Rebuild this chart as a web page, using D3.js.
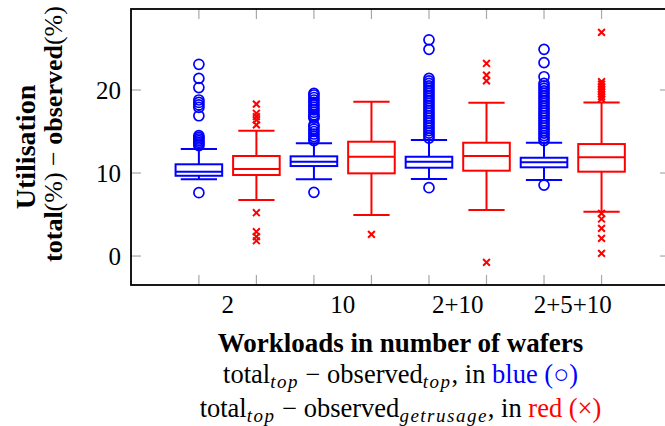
<!DOCTYPE html>
<html>
<head>
<meta charset="utf-8">
<script src="https://cdn.jsdelivr.net/npm/d3@7"></script>
</head>
<body style="margin:0; background:#fff">
<svg id="chart" width="665" height="426"></svg>
<script>
// workload groups, each has a blue (top) and a red (getrusage) box
const groups = ['2', '10', '2+10', '2+5+10'];

// [lower whisker, q1, median, q3, upper whisker]
const blueBoxes = [
  [9.24, 9.67, 10.16, 11.05, 12.89],
  [9.24, 10.84, 11.36, 12.01, 13.58],
  [9.28, 10.64, 11.36, 11.96, 13.98],
  [9.16, 10.69, 11.29, 11.84, 13.65]
];
const redBoxes = [
  [6.75, 9.76, 10.48, 12.05, 15.1],
  [4.94, 9.96, 11.96, 13.77, 18.6],
  [5.54, 10.28, 12.05, 13.65, 18.47],
  [5.34, 10.16, 11.9, 13.49, 18.5]
];

const blueOutliers = [
  [23.1, 21.4, 20.3, 18.8, 18.5, 18.2, 17.9, 16.9, 14.5, 14.3, 14.1, 13.9, 13.7, 13.5, 13.3, 7.63],
  [19.6, 19.4, 19.1, 18.8, 18.5, 18.2, 17.9, 17.6, 17.3, 17.0, 16.8, 16.6, 15.8, 15.6, 15.3, 15.0, 14.7, 14.4, 14.1, 13.9, 7.67],
  [26.05, 24.9, 21.4, 21.1, 20.8, 20.5, 20.2, 19.9, 19.6, 19.3, 19.0, 18.7, 18.4, 18.1, 17.8, 17.5, 17.2, 16.9, 16.6, 16.3, 16.0,
   15.7, 15.4, 15.1, 14.8, 14.5, 14.2, 8.23],
  [24.9, 23.3, 21.6, 20.8, 20.5, 20.2, 19.9, 19.6, 19.3, 19.0, 18.7, 18.4, 18.1, 17.8, 17.5, 17.2, 16.9, 16.6, 16.3, 16.0,
   15.7, 15.4, 15.1, 14.8, 14.5, 14.2, 13.9, 8.55]
];
const redOutliers = [
  [18.3, 17.2, 16.8, 16.4, 15.8, 5.22, 2.93, 2.33, 1.84],
  [2.61],
  [23.2, 21.8, 21.1, -0.76],
  [26.95, 21.0, 20.7, 20.4, 20.1, 19.8, 19.5, 19.2, 18.9, 5.14, 4.46, 3.33, 2.13, 0.32]
];

const yTicks = [0, 10, 20];

const serif = 'Liberation Serif';
const svg = d3.select('#chart');
const plotLeft = 131, plotRight = 670, plotTop = 9, plotBottom = 285;

const x = d3.scaleLinear().domain([-0.18, 9.19]).range([plotLeft, plotRight]);
const y = d3.scaleLinear().domain([-3.49, 29.76]).range([plotBottom, plotTop]);

const boxW = 0.81, capW = 0.63;
const blue = '#0000ff', red = '#ff0000';

// grey inner ticks
const tickLen = 10;
const tickG = svg.append('g').attr('stroke', '#a8a8a8').attr('stroke-width', 1.2);
const positions = d3.range(1, groups.length * 2 + 1);
positions.forEach(p => {
  tickG.append('line').attr('x1', x(p)).attr('x2', x(p)).attr('y1', plotTop).attr('y2', plotTop + tickLen);
  tickG.append('line').attr('x1', x(p)).attr('x2', x(p)).attr('y1', plotBottom).attr('y2', plotBottom - tickLen);
});
yTicks.forEach(t => {
  tickG.append('line').attr('x1', plotLeft).attr('x2', plotLeft + tickLen).attr('y1', y(t)).attr('y2', y(t));
  tickG.append('line').attr('x1', plotRight).attr('x2', plotRight - tickLen).attr('y1', y(t)).attr('y2', y(t));
});

function drawBox(pos, s, color) {
  const g = svg.append('g').attr('stroke', color).attr('stroke-width', 2).attr('fill', 'none');
  const [lw, q1, med, q3, uw] = s;
  g.append('line').attr('x1', x(pos)).attr('x2', x(pos)).attr('y1', y(uw)).attr('y2', y(q3));
  g.append('line').attr('x1', x(pos)).attr('x2', x(pos)).attr('y1', y(q1)).attr('y2', y(lw));
  [lw, uw].forEach(v => g.append('line')
    .attr('x1', x(pos - capW / 2)).attr('x2', x(pos + capW / 2))
    .attr('y1', y(v)).attr('y2', y(v)));
  g.append('rect')
    .attr('x', x(pos - boxW / 2)).attr('y', y(q3))
    .attr('width', x(pos + boxW / 2) - x(pos - boxW / 2))
    .attr('height', y(q1) - y(q3));
  g.append('line')
    .attr('x1', x(pos - boxW / 2)).attr('x2', x(pos + boxW / 2))
    .attr('y1', y(med)).attr('y2', y(med));
}

groups.forEach((gname, i) => {
  const pb = 2 * i + 1, pr = 2 * i + 2;
  drawBox(pb, blueBoxes[i], blue);
  drawBox(pr, redBoxes[i], red);

  svg.append('g').selectAll('circle')
    .data(blueOutliers[i])
    .join('circle')
    .attr('cx', x(pb))
    .attr('cy', d => y(d))
    .attr('r', 5)
    .attr('fill', 'none')
    .attr('stroke', blue)
    .attr('stroke-width', 1.7);

  const s = 3.4;
  svg.append('g').selectAll('path')
    .data(redOutliers[i])
    .join('path')
    .attr('d', d => {
      const cx = x(pr), cy = y(d);
      return `M${cx - s},${cy - s}L${cx + s},${cy + s}M${cx - s},${cy + s}L${cx + s},${cy - s}`;
    })
    .attr('stroke', red)
    .attr('stroke-width', 2);
});

// frame
svg.append('rect')
  .attr('x', plotLeft).attr('y', plotTop)
  .attr('width', plotRight - plotLeft).attr('height', plotBottom - plotTop)
  .attr('fill', 'none').attr('stroke', '#000').attr('stroke-width', 1.8);

// tick labels
svg.append('g').selectAll('text')
  .data(groups)
  .join('text')
  .attr('font-family', serif)
  .attr('x', (d, i) => x(2 * i + 1.5))
  .attr('y', 313)
  .attr('text-anchor', 'middle')
  .attr('font-size', 25)
  .text(d => d);

svg.append('g').selectAll('text')
  .data(yTicks)
  .join('text')
  .attr('font-family', serif)
  .attr('x', 121)
  .attr('y', d => y(d) + 8.5)
  .attr('text-anchor', 'end')
  .attr('font-size', 25)
  .text(d => d);

// axis title
const cx = (plotLeft + plotRight) / 2;
svg.append('text')
  .attr('font-family', serif)
  .attr('x', cx).attr('y', 351.5)
  .attr('text-anchor', 'middle')
  .attr('font-size', 27)
  .attr('font-weight', 'bold')
  .text('Workloads in number of wafers');

function legendLine(yPos, sub2, word, sym, color) {
  const t = svg.append('text')
    .attr('font-family', serif)
    .attr('x', cx).attr('y', yPos)
    .attr('text-anchor', 'middle')
    .attr('font-size', 26.5);
  t.append('tspan').text('total');
  t.append('tspan').attr('font-style', 'italic').attr('font-size', 19)
    .attr('letter-spacing', 1.5).attr('dy', 5).text('top');
  t.append('tspan').attr('dy', -5).text(' \u2212 observed');
  t.append('tspan').attr('font-style', 'italic').attr('font-size', 19)
    .attr('letter-spacing', 1.5).attr('dy', 5).text(sub2);
  t.append('tspan').attr('dy', -5).text(', in ');
  t.append('tspan').attr('fill', color).text(word + ' (' + sym + ')');
}
legendLine(382.5, 'top', 'blue', '\u25CB', blue);
legendLine(416.5, 'getrusage', 'red', '\u00D7', red);

// y axis label
const ly = svg.append('g').attr('transform', `translate(35, ${(plotTop + plotBottom) / 2}) rotate(-90)`);
ly.append('text')
  .attr('font-family', serif)
  .attr('text-anchor', 'middle')
  .attr('font-size', 28)
  .attr('font-weight', 'bold')
  .text('Utilisation');
const l2 = ly.append('text')
  .attr('font-family', serif)
  .attr('x', 13)
  .attr('y', 27)
  .attr('text-anchor', 'middle')
  .attr('font-size', 26);
l2.append('tspan').attr('font-weight', 'bold').text('total');
l2.append('tspan').text('(%) \u2212 ');
l2.append('tspan').attr('font-weight', 'bold').text('observed');
l2.append('tspan').text('(%)');
</script>
</body>
</html>
